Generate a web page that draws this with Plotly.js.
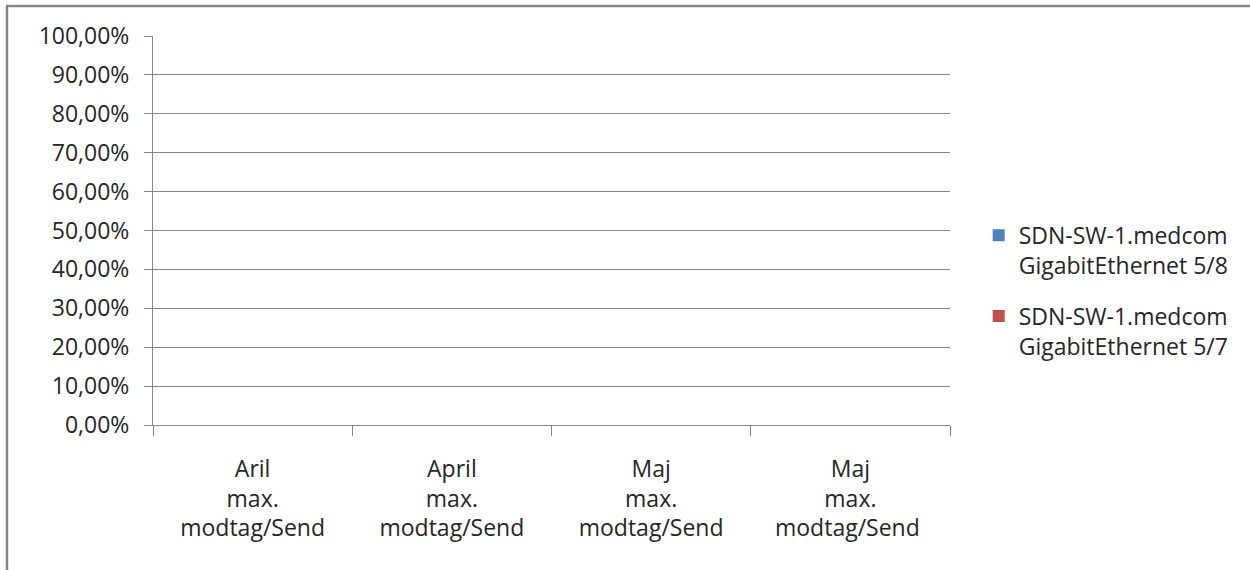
<!DOCTYPE html>
<html>
<head>
<meta charset="utf-8">
<script src="https://cdn.plot.ly/plotly-3.0.1.min.js"></script>
<style>html,body{margin:0;padding:0;background:#fff;}#chart{width:1250px;height:570px;}</style>
</head>
<body>
<div id="chart"></div>
<script>
const categories = ["Aril<br>max.<br>modtag/Send", "April<br>max.<br>modtag/Send", "Maj<br>max.<br>modtag/Send", "Maj<br>max.<br>modtag/Send "];
const seriesNames = ["SDN-SW-1.medcom<br>GigabitEthernet 5/8", "SDN-SW-1.medcom<br>GigabitEthernet 5/7"];
const series58 = [0, 0, 0, 0];
const series57 = [0, 0, 0, 0];
const yTicks = [0, 0.1, 0.2, 0.3, 0.4, 0.5, 0.6, 0.7, 0.8, 0.9, 1.0];

const FONT = "'Open Sans', 'Noto Sans', sans-serif";
const FS = 23;
const W = 797, H = 389;
const traces = [
  {type: 'bar', name: seriesNames[0], legendgroup: 'a', x: categories, y: series58, marker: {color: '#4F81BD'}},
  {type: 'bar', name: seriesNames[1], legendgroup: 'b', x: categories, y: series57, marker: {color: '#C0504D'}}
];
const layout = {
  width: 1250, height: 570,
  margin: {l: 153, r: 300, t: 36, b: 145},
  paper_bgcolor: '#fff', plot_bgcolor: '#fff',
  separators: ',.',
  font: {family: FONT, size: FS, color: '#262626'},
  showlegend: true,
  legend: {x: 1.036, xanchor: 'left', y: 0.345, yanchor: 'middle', valign: 'top', traceorder: 'grouped', tracegroupgap: 18,
           font: {size: FS, family: FONT, color: '#262626'}, itemwidth: 30},
  xaxis: {
    type: 'category', showgrid: false, showline: true, linecolor: '#868686', linewidth: 1,
    ticks: 'outside', tickson: 'boundaries', ticklen: 10, tickcolor: '#868686',
    tickfont: {size: FS, family: FONT, color: '#262626'}, ticklabelstandoff: 23, fixedrange: true
  },
  yaxis: {
    range: [0, 1], tickvals: yTicks, tickformat: '.2%',
    showgrid: true, gridcolor: '#868686', gridwidth: 1,
    showline: true, linecolor: '#868686', linewidth: 1,
    ticks: 'outside', ticklen: 8, tickcolor: '#868686', zeroline: false, ticklabelstandoff: 10,
    tickfont: {size: FS, family: FONT, color: '#262626'}, fixedrange: true
  },
  shapes: [
    {type: 'line', xref: 'paper', yref: 'paper', x0: (7 - 153) / W, x1: (7 - 153) / W, y0: (425 - 6) / H, y1: (425 - 575) / H, line: {color: '#878787', width: 2.5}},
    {type: 'line', xref: 'paper', yref: 'paper', x0: (6 - 153) / W, x1: (1260 - 153) / W, y0: (425 - 6) / H, y1: (425 - 6) / H, line: {color: '#878787', width: 2.5}}
  ]
};
Plotly.newPlot('chart', traces, layout, {displayModeBar: false, staticPlot: true});
</script>
</body>
</html>
